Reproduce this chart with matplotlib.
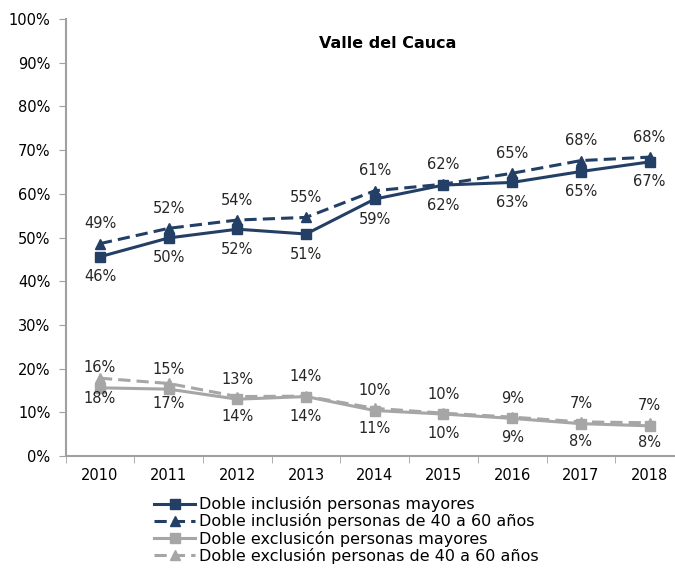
import numpy as np
import matplotlib
matplotlib.use("Agg")
import matplotlib.pyplot as plt

plt.rcParams['font.family'] = ['DejaVu Sans']

years = ['2010', '2011', '2012', '2013', '2014', '2015', '2016', '2017', '2018']
incl_mayores = [45.6, 49.9, 51.9, 50.8, 58.8, 62.0, 62.6, 65.1, 67.3]
incl_40_60 = [48.6, 52.1, 54.0, 54.6, 60.7, 62.2, 64.7, 67.6, 68.4]
excl_mayores = [15.6, 15.3, 13.0, 13.6, 10.4, 9.6, 8.6, 7.4, 6.9]
excl_40_60 = [17.8, 16.6, 13.6, 13.7, 10.9, 9.8, 8.9, 7.8, 7.6]

names = ['Doble inclusión personas mayores',
         'Doble inclusión personas de 40 a 60 años',
         'Doble exclusicón personas mayores',
         'Doble exclusión personas de 40 a 60 años']

navy = '#243F66'
gray = '#A6A6A6'

fig = plt.figure(figsize=(6.75, 5.69), dpi=100)
ax = fig.add_axes([0.0972, 0.1986, 0.916, 0.768])
x = np.arange(len(years))

# side: +1 label above the point, -1 below
series = [
    (incl_mayores, navy, '-', 's', -1),
    (incl_40_60, navy, '--', '^', 1),
    (excl_mayores, gray, '-', 's', 1),
    (excl_40_60, gray, '--', '^', -1),
]

for (vals, col, ls, mk, side), name in zip(series, names):
    ax.plot(x, vals, color=col, linestyle=ls, marker=mk, markersize=7.5,
            linewidth=2.2, label=name, dashes=(4, 2) if ls == '--' else (None, None))
    for xi, v in zip(x, vals):
        ax.annotate(f"{v:.0f}%", (xi, v), xytext=(0, 20 * side),
                    textcoords='offset pixels', ha='center', va='center',
                    fontsize=10.5, color='#262626')

ax.text(4.19, 94.3, 'Valle del Cauca', ha='center', va='center',
        fontsize=11.5, fontweight='bold', color='black')

ax.set_xlim(-0.5, len(years) - 0.5)
ax.set_ylim(0, 100)
ax.set_yticks(np.arange(0, 101, 10))
ax.set_yticklabels([f"{t}%" for t in range(0, 101, 10)], fontsize=10.5)
ax.set_xticks(x)
ax.set_xticklabels(years, fontsize=10.5)
ax.set_xticks(np.arange(-0.5, len(years), 1), minor=True)
ax.tick_params(axis='x', which='major', length=0, pad=9)
ax.tick_params(axis='x', which='minor', length=5, color='#A0A0A0')
ax.tick_params(axis='y', length=5, color='#A0A0A0', pad=6)

for s in ['top', 'right']:
    ax.spines[s].set_visible(False)
for s in ['left', 'bottom']:
    ax.spines[s].set_color('#A0A0A0')
    ax.spines[s].set_linewidth(1.5)

fig.legend(loc='upper left', bbox_to_anchor=(0.228, 0.128), frameon=False,
           fontsize=11.5, handlelength=2.6, handletextpad=0.2, labelspacing=0.08,
           borderpad=0, borderaxespad=0)

fig.savefig('out.png', dpi=100)
